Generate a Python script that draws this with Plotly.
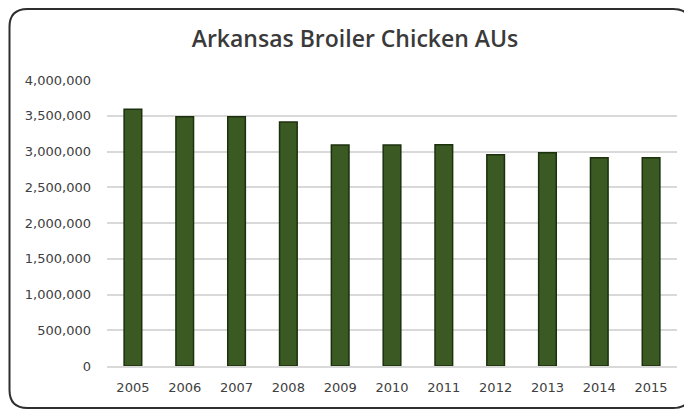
import plotly.graph_objects as go

years = ["2005", "2006", "2007", "2008", "2009", "2010", "2011", "2012", "2013", "2014", "2015"]
broiler_aus = [3590000, 3487000, 3487000, 3413000, 3090000, 3090000, 3095000, 2955000, 2983000, 2913000, 2913000]
y_ticks = [0, 500000, 1000000, 1500000, 2000000, 2500000, 3000000, 3500000, 4000000]
y_tick_labels = ["0", "500,000", "1,000,000", "1,500,000", "2,000,000", "2,500,000", "3,000,000", "3,500,000", "4,000,000"]

W, H = 684, 402
L, R, T, B = 99, 15, 72, 44
PW, PH = W - L - R, H - T - B


def px_to_paper(px, py):
    return (px - L) / PW, (H - B - py) / PH


fx0, fy1 = px_to_paper(1.5, 1.0)
fx1, fy0 = px_to_paper(683.0, 400.0)
rx, ry = 18 / PW, 18 / PH
path = (f"M {fx0+rx},{fy1} L {fx1-rx},{fy1} Q {fx1},{fy1} {fx1},{fy1-ry} "
        f"L {fx1},{fy0+ry} Q {fx1},{fy0} {fx1-rx},{fy0} L {fx0+rx},{fy0} "
        f"Q {fx0},{fy0} {fx0},{fy0+ry} L {fx0},{fy1-ry} Q {fx0},{fy1} {fx0+rx},{fy1} Z")

fig = go.Figure()
fig.add_trace(go.Bar(
    x=years, y=broiler_aus,
    marker=dict(color="#3b5a23", line=dict(color="#1c300e", width=1.5)),
))

fig.update_layout(
    width=W, height=H,
    margin=dict(l=L, r=R, t=T, b=B),
    paper_bgcolor="white", plot_bgcolor="white",
    showlegend=False,
    bargap=0.66,
    title=dict(text="Arkansas Broiler Chicken AUs", x=347 / W, xanchor="center",
               y=1 - 31 / H, yanchor="middle",
               font=dict(family="Open Sans", size=23, color="#3a3a3a", weight=600)),
    font=dict(family="DejaVu Sans", size=13, color="#404040"),
    shapes=[dict(type="path", path=path, xref="paper", yref="paper",
                 line=dict(color="#2e2e2e", width=2), layer="below")],
)

fig.update_yaxes(range=[0, 4000000], tickvals=y_ticks, ticktext=y_tick_labels,
                 showgrid=True, gridcolor="#d9d9d9", gridwidth=1.5,
                 zeroline=False, showline=False, ticks="", ticklabelstandoff=15,
                 tickfont=dict(family="DejaVu Sans", size=13, color="#404040"))
fig.update_xaxes(showgrid=False, showline=True, linecolor="#d9d9d9", linewidth=1.5,
                 ticks="", ticklabelstandoff=9,
                 tickfont=dict(family="DejaVu Sans", size=13, color="#404040"))

fig.write_html("out.html")
